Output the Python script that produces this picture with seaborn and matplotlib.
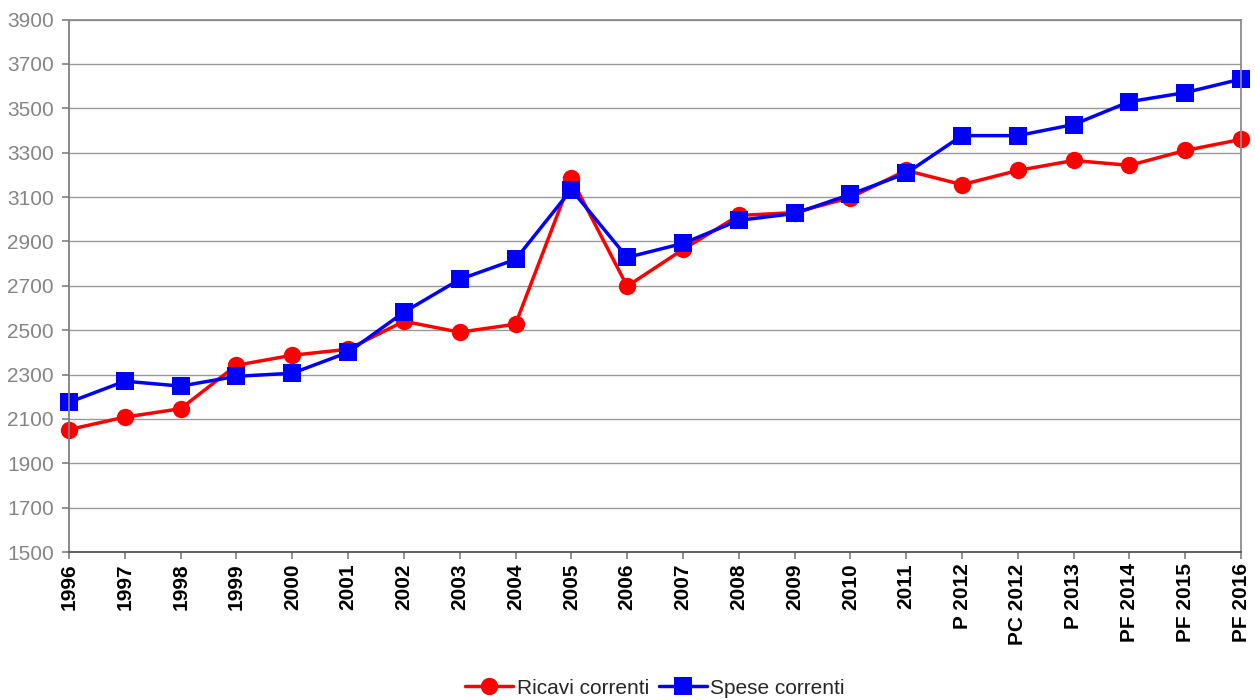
import matplotlib
matplotlib.use("Agg")
import matplotlib.pyplot as plt
import pandas as pd
import seaborn as sns

anni = ["1996", "1997", "1998", "1999", "2000", "2001", "2002", "2003", "2004",
        "2005", "2006", "2007", "2008", "2009", "2010", "2011",
        "P 2012", "PC 2012", "P 2013", "PF 2014", "PF 2015", "PF 2016"]

ricavi_correnti = [2052, 2108, 2146, 2342, 2387, 2414, 2540, 2491, 2527,
                   3184, 2698, 2864, 3017, 3030, 3098, 3220,
                   3156, 3220, 3265, 3243, 3310, 3360]

spese_correnti = [2175, 2270, 2248, 2292, 2306, 2400, 2581, 2729, 2819,
                  3134, 2828, 2891, 2995, 3026, 3112, 3207,
                  3377, 3377, 3427, 3530, 3571, 3632]

serie = ["Ricavi correnti", "Spese correnti"]

df = pd.concat([
    pd.DataFrame({"anno": anni, "valore": ricavi_correnti, "serie": serie[0]}),
    pd.DataFrame({"anno": anni, "valore": spese_correnti, "serie": serie[1]}),
], ignore_index=True)

sns.set_theme(style="white")
plt.rcParams["font.family"] = ["Liberation Sans", "DejaVu Sans"]

fig = plt.figure(figsize=(12.55, 7.0), dpi=100)
ax = fig.add_axes([0.055, 0.2114, 0.9339, 0.7606])

sns.lineplot(
    data=df, x="anno", y="valore", hue="serie", style="serie",
    hue_order=serie, style_order=serie,
    palette={"Ricavi correnti": "#ff0000", "Spese correnti": "#0000ff"},
    markers={"Ricavi correnti": "o", "Spese correnti": "s"},
    dashes=False, sort=False, linewidth=2.5, markersize=12.5,
    markeredgewidth=0, ax=ax, legend=True,
)
for ln in ax.lines:
    ln.set_clip_on(False)

ax.set_xlim(0, len(anni) - 1)
ax.set_ylim(1500, 3900)
ax.set_yticks(range(1500, 3901, 200))
ax.set_xticks(range(len(anni)))
ax.set_xticklabels(anni, rotation=90, fontweight="bold", fontsize=15, color="black")
ax.tick_params(axis="both", direction="out", length=5, width=1.2, color="#808080",
               bottom=True, left=True, pad=3)
ax.tick_params(axis="y", labelsize=15, labelcolor="#858585", pad=6)
ax.set_xlabel("")
ax.set_ylabel("")

ax.yaxis.grid(True, color="#999999", linewidth=1.0)
ax.xaxis.grid(False)
ax.set_axisbelow(True)
for s in ax.spines.values():
    s.set_visible(True)
    s.set_color("#8c8c8c")
    s.set_linewidth(1.3)
ax.spines["left"].set_color("#808080")
ax.spines["bottom"].set_color("#555555")

handles, labels = ax.get_legend_handles_labels()
ax.get_legend().remove()
fig.legend(handles, labels, loc="center", bbox_to_anchor=(0.522, 0.017),
           ncol=2, frameon=False, fontsize=15, handlelength=2.3,
           handletextpad=0.15, columnspacing=0.5, borderaxespad=0)

fig.savefig("out.png", dpi=100, facecolor="white")
